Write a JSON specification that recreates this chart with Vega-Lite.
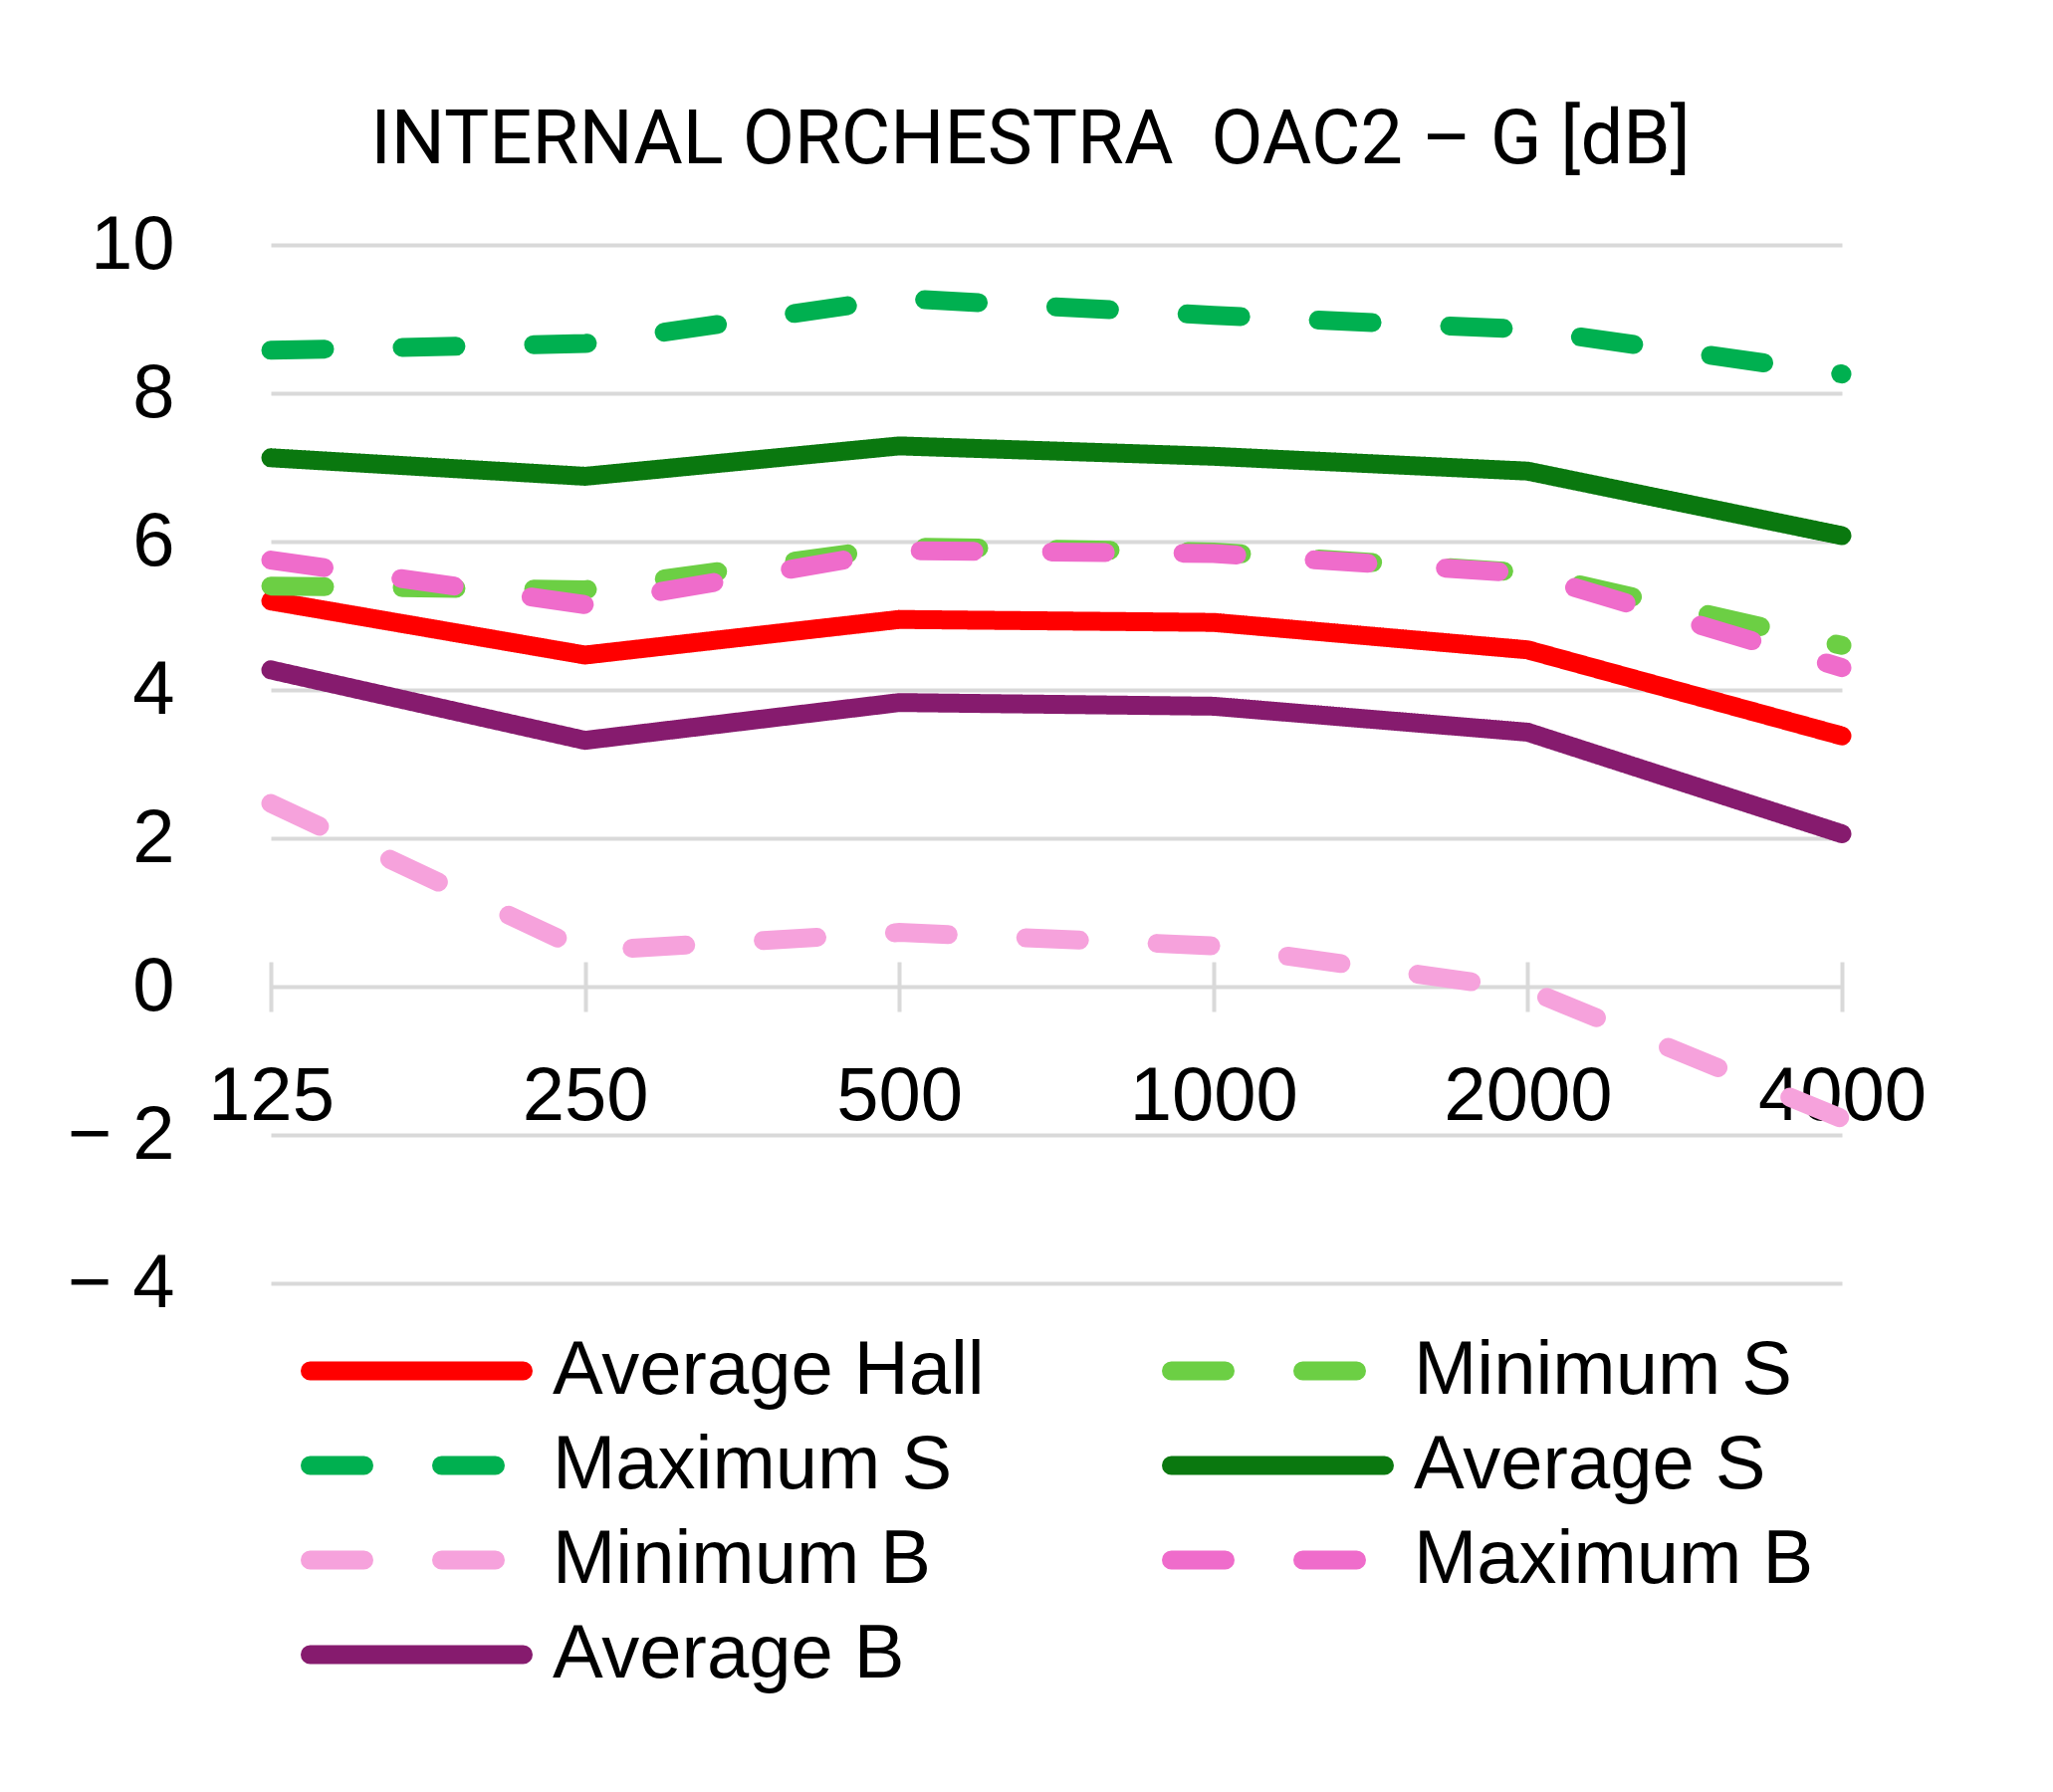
{
  "$schema": "https://vega.github.io/schema/vega-lite/v6.json",
  "width": 1578,
  "height": 1043,
  "autosize": "none",
  "padding": {"left": 272, "top": 246, "right": 212, "bottom": 511},
  "background": "white",
  "config": {
    "view": {"stroke": null},
    "font": "Liberation Sans"
  },
  "title": {
    "text": "INTERNAL ORCHESTRA\u00a0 OAC2 – G [dB]",
    "font": "Roboto",
    "fontSize": 76,
    "fontWeight": "normal",
    "color": "#000000",
    "frame": "group",
    "anchor": "middle",
    "baseline": "alphabetic",
    "offset": -32,
    "dx": -26
  },
  "data": {
    "values": [
      {"freq": "125", "series": "Average Hall", "g": 5.20},
      {"freq": "250", "series": "Average Hall", "g": 4.47},
      {"freq": "500", "series": "Average Hall", "g": 4.95},
      {"freq": "1000", "series": "Average Hall", "g": 4.91},
      {"freq": "2000", "series": "Average Hall", "g": 4.54},
      {"freq": "4000", "series": "Average Hall", "g": 3.38},
      {"freq": "125", "series": "Minimum S", "g": 5.40},
      {"freq": "250", "series": "Minimum S", "g": 5.35},
      {"freq": "500", "series": "Minimum S", "g": 5.93},
      {"freq": "1000", "series": "Minimum S", "g": 5.86},
      {"freq": "2000", "series": "Minimum S", "g": 5.58},
      {"freq": "4000", "series": "Minimum S", "g": 4.60},
      {"freq": "125", "series": "Maximum S", "g": 8.58},
      {"freq": "250", "series": "Maximum S", "g": 8.67},
      {"freq": "500", "series": "Maximum S", "g": 9.28},
      {"freq": "1000", "series": "Maximum S", "g": 9.05},
      {"freq": "2000", "series": "Maximum S", "g": 8.86},
      {"freq": "4000", "series": "Maximum S", "g": 8.26},
      {"freq": "125", "series": "Average S", "g": 7.13},
      {"freq": "250", "series": "Average S", "g": 6.88},
      {"freq": "500", "series": "Average S", "g": 7.29},
      {"freq": "1000", "series": "Average S", "g": 7.15},
      {"freq": "2000", "series": "Average S", "g": 6.95},
      {"freq": "4000", "series": "Average S", "g": 6.08},
      {"freq": "125", "series": "Minimum B", "g": 2.47},
      {"freq": "250", "series": "Minimum B", "g": 0.48},
      {"freq": "500", "series": "Minimum B", "g": 0.73},
      {"freq": "1000", "series": "Minimum B", "g": 0.55},
      {"freq": "2000", "series": "Minimum B", "g": -0.04},
      {"freq": "4000", "series": "Minimum B", "g": -1.78},
      {"freq": "125", "series": "Maximum B", "g": 5.75},
      {"freq": "250", "series": "Maximum B", "g": 5.15},
      {"freq": "500", "series": "Maximum B", "g": 5.88},
      {"freq": "1000", "series": "Maximum B", "g": 5.84},
      {"freq": "2000", "series": "Maximum B", "g": 5.57},
      {"freq": "4000", "series": "Maximum B", "g": 4.30},
      {"freq": "125", "series": "Average B", "g": 4.27},
      {"freq": "250", "series": "Average B", "g": 3.32},
      {"freq": "500", "series": "Average B", "g": 3.83},
      {"freq": "1000", "series": "Average B", "g": 3.78},
      {"freq": "2000", "series": "Average B", "g": 3.43},
      {"freq": "4000", "series": "Average B", "g": 2.06}
    ]
  },
  "mark": {"type": "line", "strokeWidth": 19, "strokeCap": "round", "strokeJoin": "miter"},
  "encoding": {
    "x": {
      "field": "freq",
      "type": "ordinal",
      "sort": ["125", "250", "500", "1000", "2000", "4000"],
      "scale": {"type": "point", "padding": 0},
      "axis": {
        "title": null,
        "orient": "bottom",
        "offset": -323,
        "domain": false,
        "grid": false,
        "ticks": true,
        "tickSize": 50,
        "tickWidth": 4,
        "tickColor": "#d9d9d9",
        "labelAngle": 0,
        "labelFontSize": 76,
        "labelColor": "#000000",
        "labelPadding": 48
      }
    },
    "y": {
      "field": "g",
      "type": "quantitative",
      "scale": {"domain": [-4, 10], "nice": false, "zero": false},
      "axis": {
        "title": null,
        "values": [-4, -2, 0, 2, 4, 6, 8, 10],
        "domain": false,
        "ticks": false,
        "grid": true,
        "gridColor": "#d9d9d9",
        "gridWidth": 4,
        "labelFontSize": 76,
        "labelColor": "#000000",
        "labelPadding": 97,
        "labelExpr": "datum.value < 0 ? '\u2212 ' + abs(datum.value) : datum.label"
      }
    },
    "color": {
      "field": "series",
      "type": "nominal",
      "scale": {
        "domain": ["Average Hall", "Maximum S", "Minimum B", "Average B", "Minimum S", "Average S", "Maximum B"],
        "range": ["#ff0000", "#00b050", "#f6a2dc", "#861b6e", "#6ccf44", "#0a780f", "#ef6ccb"]
      },
      "legend": {
        "title": null,
        "orient": "none",
        "legendX": 30,
        "legendY": 1093,
        "columns": 2,
        "columnPadding": 178,
        "rowPadding": 19,
        "padding": 0,
        "clipHeight": 76,
        "symbolType": "stroke",
        "symbolSize": 45796,
        "symbolStrokeWidth": 19,
        "labelFontSize": 76,
        "labelColor": "#000000",
        "labelOffset": 20,
        "labelLimit": 0,
        "encode": {"symbols": {"update": {"strokeCap": {"value": "round"}}}}
      }
    },
    "strokeDash": {
      "field": "series",
      "type": "nominal",
      "scale": {
        "domain": ["Average Hall", "Maximum S", "Minimum B", "Average B", "Minimum S", "Average S", "Maximum B"],
        "range": [[1, 0], [54, 78], [54, 78], [1, 0], [54, 78], [1, 0], [54, 78]]
      }
    }
  }
}
